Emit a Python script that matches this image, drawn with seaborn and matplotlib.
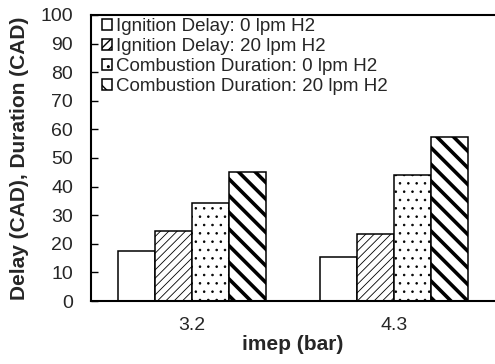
import matplotlib
matplotlib.use("Agg")
import matplotlib.pyplot as plt
import seaborn as sns
import pandas as pd

categories = ["3.2", "4.3"]
series_names = ["Ignition Delay: 0 lpm H2", "Ignition Delay: 20 lpm H2",
                "Combustion Duration: 0 lpm H2", "Combustion Duration: 20 lpm H2"]
ign_0 = [17.5, 15.3]
ign_20 = [24.4, 23.4]
comb_0 = [34.2, 44.1]
comb_20 = [45.2, 57.4]
yticks = [0, 10, 20, 30, 40, 50, 60, 70, 80, 90, 100]

sns.set_theme(style="white")
plt.rcParams['font.family'] = ['Liberation Sans', 'DejaVu Sans']

rows = []
for name, vals in zip(series_names, [ign_0, ign_20, comb_0, comb_20]):
    for c, v in zip(categories, vals):
        rows.append({"imep": c, "series": name, "value": v})
df = pd.DataFrame(rows)

fig = plt.figure(figsize=(4.95, 3.64), dpi=100)
ax = fig.add_axes([0.1838, 0.173, 0.8162, 0.786])

pal = {n: "white" for n in series_names}
sns.barplot(data=df, x="imep", y="value", hue="series", order=categories,
            hue_order=series_names, palette=pal, width=0.73, edgecolor="black",
            linewidth=1.1, saturation=1, ax=ax, legend=True, errorbar=None)

hatches = ["", "////", "..", "\\\\"]
hlw = [0.6, 0.6, 0.6, 2.6]
for cont, h, lw in zip(ax.containers, hatches, hlw):
    for p in cont.patches:
        p.set_hatch(h)
        p.set_edgecolor("black")
        if hasattr(p, "set_hatch_linewidth"):
            p.set_hatch_linewidth(lw)

ax.set_ylim(0, 100)
ax.set_xlim(-0.5, 1.5)
ax.set_yticks(yticks)
ax.set_yticklabels([str(t) for t in yticks], fontsize=14)
ax.set_xticks([-0.5, 0.5, 1.5])
ax.set_xticklabels([])
ax.set_xticks([0, 1], minor=True)
ax.set_xticklabels(categories, minor=True, fontsize=14)
ax.tick_params(axis="x", which="major", direction="in", length=5, width=1, color="black")
ax.tick_params(axis="x", which="minor", length=0, pad=11.5)
ax.tick_params(axis="y", direction="in", length=5, width=1, color="black", pad=13, left=True)
for s in ["left", "bottom", "top"]:
    ax.spines[s].set_visible(True)
    ax.spines[s].set_color("black")
    ax.spines[s].set_linewidth(1.5)
ax.spines["right"].set_visible(False)

ax.set_xlabel("imep (bar)", fontsize=15, fontweight="bold", labelpad=1)
ax.set_ylabel("Delay (CAD), Duration (CAD)", fontsize=15, fontweight="bold", labelpad=8)

handles, labels = ax.get_legend_handles_labels()
for hd, h, lw in zip(handles, hatches, hlw):
    hd.set_hatch(h)
    hd.set_edgecolor("black")
    if hasattr(hd, "set_hatch_linewidth"):
        hd.set_hatch_linewidth(lw)
ax.legend(handles, labels, loc="upper left", bbox_to_anchor=(0.027, 0.988), frameon=False,
          fontsize=13.5, handlelength=0.55, handleheight=0.5, handletextpad=0.2,
          labelspacing=0.16, borderaxespad=0, borderpad=0)

fig.savefig("out.png", dpi=100)
